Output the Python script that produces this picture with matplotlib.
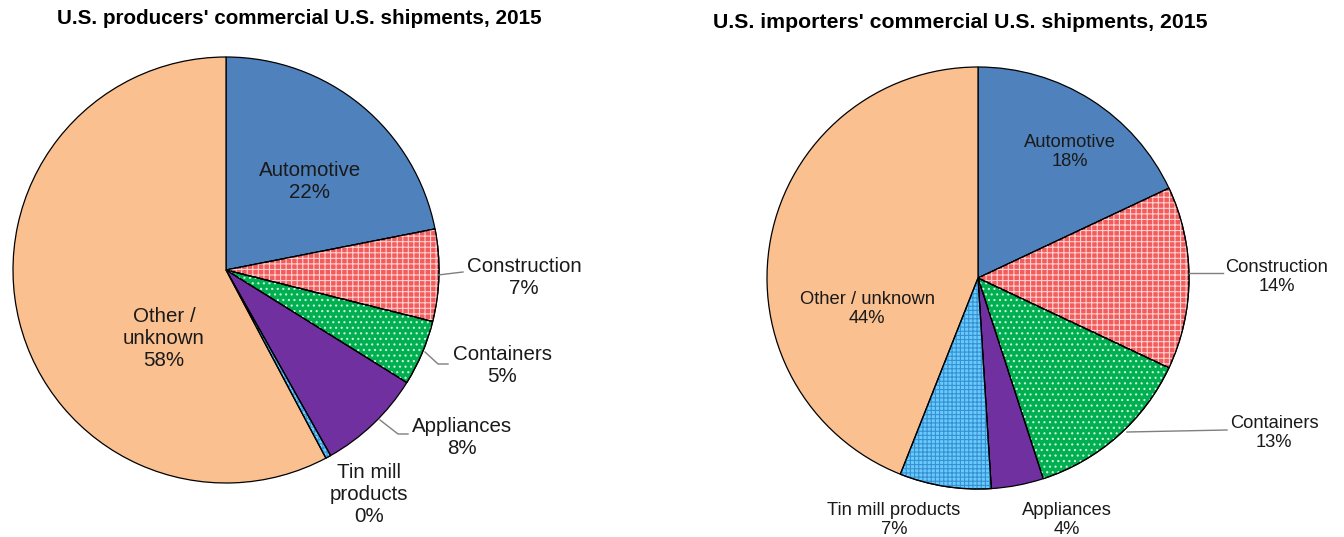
import numpy as np
import matplotlib
matplotlib.use("Agg")
import matplotlib.pyplot as plt
from matplotlib.patches import Wedge

plt.rcParams['font.family'] = ['Liberation Sans', 'DejaVu Sans']
plt.rcParams['hatch.linewidth'] = 0.8

# Shipment shares by end use, 2015 (percent)
categories = ["Automotive", "Construction", "Containers", "Appliances",
              "Tin mill products", "Other / unknown"]
producers = [22, 7, 5, 8, 0.4, 58]
importers = [18, 14, 13, 4, 7, 44]

colors = ["#4F81BD", "#F25C5C", "#00B050", "#7030A0", "#66CCFF", "#FAC090"]
hatches = [None, "+++", "...", None, "++++", None]
hatch_colors = [None, "#FFD0D0", "#CFF5DC", None, "#3A8FD0", None]

W, H = 1344, 537
fig = plt.figure(figsize=(W / 100, H / 100), dpi=100)
ax = fig.add_axes([0, 0, 1, 1])


def draw_pie(values, cx, cy, r):
    wedges, _ = ax.pie(values, colors=colors, startangle=90, counterclock=False,
                       center=(cx, H - cy), radius=r, frame=True,
                       wedgeprops=dict(edgecolor="black", linewidth=0.9))
    # hatch overlays in their own colour, then the outline again on top
    for w, h, hc in zip(wedges, hatches, hatch_colors):
        if h is None:
            continue
        ax.add_patch(Wedge(w.center, w.r, w.theta1, w.theta2, facecolor="none",
                           edgecolor=hc, hatch=h, linewidth=0))
        ax.add_patch(Wedge(w.center, w.r, w.theta1, w.theta2, facecolor="none",
                           edgecolor="black", linewidth=0.9))
    return wedges


def pct(v):
    return f"{int(round(v))}%"


def label(text, x, y, size, line=None):
    ax.text(x, H - y, text, ha="center", va="center", fontsize=size,
            color="#1a1a1a", linespacing=1.2)
    if line is not None:
        xs, ys = zip(*line)
        ax.plot(xs, [H - v for v in ys], color="#7f7f7f", linewidth=1)


draw_pie(producers, 226, 270, 213)
draw_pie(importers, 978, 278, 211)

ax.set_xlim(0, W)
ax.set_ylim(0, H)
ax.set_aspect("equal")
ax.axis("off")

ax.text(299, H - 19, "U.S. producers' commercial U.S. shipments, 2015",
        ha="center", va="center", fontsize=14.9, fontweight="bold")
ax.text(960, H - 23, "U.S. importers' commercial U.S. shipments, 2015",
        ha="center", va="center", fontsize=15.3, fontweight="bold")

# left chart labels
p = producers
fl = 14.8
label(f"Automotive\n{pct(p[0])}", 310, 182, fl)
label(f"Construction\n{pct(p[1])}", 524, 278, fl, [(438, 275), (463, 272)])
label(f"Containers\n{pct(p[2])}", 502, 366, fl, [(425, 352), (438, 364), (448, 364)])
label(f"Appliances\n{pct(p[3])}", 462, 437, fl, [(380, 420), (398, 434), (408, 434)])
label(f"Tin mill\nproducts\n{pct(p[4])}", 369, 495, fl)
label(f"Other /\nunknown\n{pct(p[5])}", 164, 338, fl)

# right chart labels
q = importers
fr = 13.2
label(f"Automotive\n{pct(q[0])}", 1070, 152, fr)
label(f"Construction\n{pct(q[1])}", 1277, 277, fr, [(1189, 273), (1223, 273)])
label(f"Containers\n{pct(q[2])}", 1274, 433, fr, [(1127, 432), (1227, 430)])
label(f"Appliances\n{pct(q[3])}", 1067, 520, fr)
label(f"Tin mill products\n{pct(q[4])}", 894, 520, fr)
label(f"Other / unknown\n{pct(q[5])}", 867, 309, fr)

fig.savefig("out.png", dpi=100)
